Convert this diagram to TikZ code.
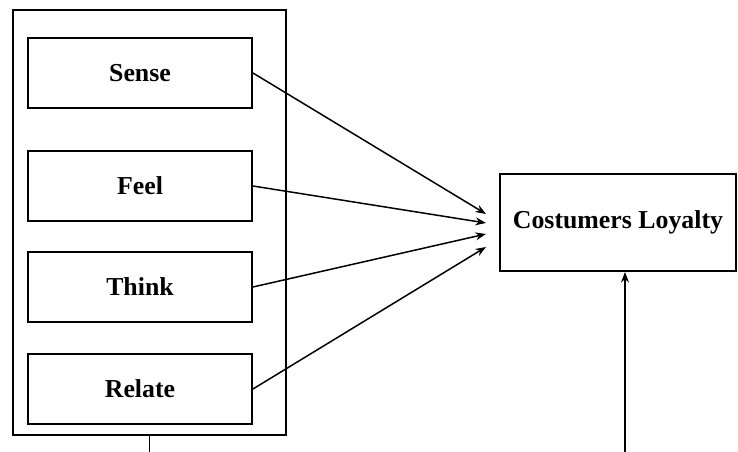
\documentclass[tikz,border=0pt]{standalone}
\usepackage{fontspec}
\setmainfont{Liberation Serif}
\usetikzlibrary{arrows.meta}

\tikzset{
  dim/.style={draw, line width=1.1pt, minimum width=4.48cm, minimum height=1.4cm, font=\bfseries\fontsize{14.7}{17}\selectfont},
  link/.style={line width=.85pt, -{Stealth[length=6pt,width=4.5pt]}}
}

\begin{document}
\begin{tikzpicture}[x=.02cm, y=-.02cm]
\useasboundingbox (0,0) rectangle (738,452);

\node [draw, line width=1.1pt, minimum width=5.46cm, minimum height=8.5cm] (group) at (149.5,222.5) {};
\node [draw, line width=1.1pt, minimum width=4.72cm, minimum height=1.94cm, font=\bfseries\fontsize{14.7}{17}\selectfont] (loyalty) at (618,222.5) {Costumers Loyalty};

\foreach \n/\y/\t/\ty in {
sense/73/Sense/214,
feel/186/Feel/223,
think/287/Think/234,
relate/389/Relate/247}
{
\node [dim] (\n) at (140,\y) {\t};
\coordinate (\n-tip) at (486,\ty);
\draw [link] (\n.east) -- (\n-tip);
}

\coordinate (down) at (group.south |- 0,452);
\draw [line width=1.1pt] (group.south) -- (down);

\coordinate (up) at (625,452);
\draw [link] (up) -- (up |- loyalty.south);

\end{tikzpicture}
\end{document}
